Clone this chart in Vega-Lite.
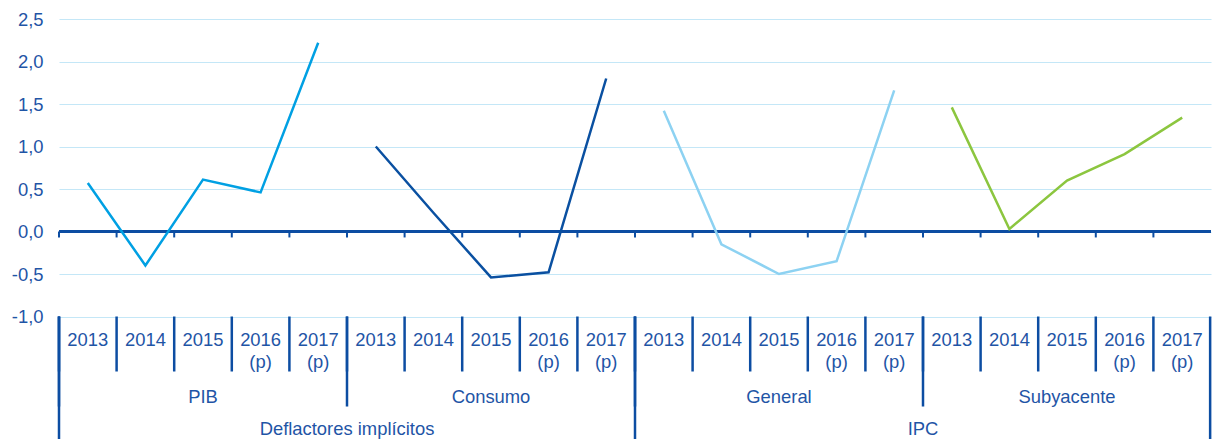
{
  "$schema": "https://vega.github.io/schema/vega-lite/v6.json",
  "width": 1152,
  "height": 297.5,
  "autosize": {"type": "none"},
  "padding": {"left": 59, "top": 19, "right": 1, "bottom": 123},
  "background": "white",
  "config": {
    "view": {"stroke": null},
    "font": "Liberation Sans",
    "text": {"font": "Liberation Sans", "fontSize": 18.4, "color": "#1F55A6"}
  },
  "data": {
    "values": [
      {"id": "PIB-2013", "grupo": "Deflactores implícitos", "serie": "PIB", "anio": "2013", "nota": "", "valor": 0.57},
      {"id": "PIB-2014", "grupo": "Deflactores implícitos", "serie": "PIB", "anio": "2014", "nota": "", "valor": -0.4},
      {"id": "PIB-2015", "grupo": "Deflactores implícitos", "serie": "PIB", "anio": "2015", "nota": "", "valor": 0.61},
      {"id": "PIB-2016", "grupo": "Deflactores implícitos", "serie": "PIB", "anio": "2016", "nota": "(p)", "valor": 0.46},
      {"id": "PIB-2017", "grupo": "Deflactores implícitos", "serie": "PIB", "anio": "2017", "nota": "(p)", "valor": 2.22},
      {"id": "Consumo-2013", "grupo": "Deflactores implícitos", "serie": "Consumo", "anio": "2013", "nota": "", "valor": 1.0},
      {"id": "Consumo-2014", "grupo": "Deflactores implícitos", "serie": "Consumo", "anio": "2014", "nota": "", "valor": 0.22},
      {"id": "Consumo-2015", "grupo": "Deflactores implícitos", "serie": "Consumo", "anio": "2015", "nota": "", "valor": -0.54},
      {"id": "Consumo-2016", "grupo": "Deflactores implícitos", "serie": "Consumo", "anio": "2016", "nota": "(p)", "valor": -0.48},
      {"id": "Consumo-2017", "grupo": "Deflactores implícitos", "serie": "Consumo", "anio": "2017", "nota": "(p)", "valor": 1.8},
      {"id": "General-2013", "grupo": "IPC", "serie": "General", "anio": "2013", "nota": "", "valor": 1.42},
      {"id": "General-2014", "grupo": "IPC", "serie": "General", "anio": "2014", "nota": "", "valor": -0.15},
      {"id": "General-2015", "grupo": "IPC", "serie": "General", "anio": "2015", "nota": "", "valor": -0.5},
      {"id": "General-2016", "grupo": "IPC", "serie": "General", "anio": "2016", "nota": "(p)", "valor": -0.35},
      {"id": "General-2017", "grupo": "IPC", "serie": "General", "anio": "2017", "nota": "(p)", "valor": 1.66},
      {"id": "Subyacente-2013", "grupo": "IPC", "serie": "Subyacente", "anio": "2013", "nota": "", "valor": 1.46},
      {"id": "Subyacente-2014", "grupo": "IPC", "serie": "Subyacente", "anio": "2014", "nota": "", "valor": 0.03},
      {"id": "Subyacente-2015", "grupo": "IPC", "serie": "Subyacente", "anio": "2015", "nota": "", "valor": 0.6},
      {"id": "Subyacente-2016", "grupo": "IPC", "serie": "Subyacente", "anio": "2016", "nota": "(p)", "valor": 0.91},
      {"id": "Subyacente-2017", "grupo": "IPC", "serie": "Subyacente", "anio": "2017", "nota": "(p)", "valor": 1.34}
    ]
  },
  "resolve": {"scale": {"x": "shared", "y": "shared"}},
  "layer": [
    {
      "mark": {"type": "rule", "color": "#0C4DA2", "strokeWidth": 2.5},
      "encoding": {
        "y": {
          "datum": 0,
          "type": "quantitative",
          "scale": {"domain": [-1, 2.5], "nice": false, "zero": false},
          "axis": {
            "values": [-1, -0.5, 0, 0.5, 1, 1.5, 2, 2.5],
            "labelExpr": "replace(replace(format(datum.value, '.1f'), '.', ','), '\u2212', '-')",
            "domain": false,
            "ticks": false,
            "grid": true,
            "gridColor": "#C4E7F7",
            "gridWidth": 1.2,
            "labelFont": "Liberation Sans",
            "labelFontSize": 18.4,
            "labelColor": "#1F55A6",
            "labelPadding": 16,
            "title": null
          }
        }
      }
    },
    {
      "mark": {"type": "rule", "color": "#0C4DA2", "strokeWidth": 2},
      "encoding": {
        "x": {
          "field": "id",
          "type": "nominal",
          "bandPosition": 0,
          "scale": {
            "type": "band",
            "paddingInner": 0,
            "paddingOuter": 0,
            "domain": ["PIB-2013", "PIB-2014", "PIB-2015", "PIB-2016", "PIB-2017", "Consumo-2013", "Consumo-2014", "Consumo-2015", "Consumo-2016", "Consumo-2017", "General-2013", "General-2014", "General-2015", "General-2016", "General-2017", "Subyacente-2013", "Subyacente-2014", "Subyacente-2015", "Subyacente-2016", "Subyacente-2017"]
          },
          "axis": null
        },
        "y": {"datum": 0, "type": "quantitative"},
        "y2": {"datum": -0.07}
      }
    },
    {
      "mark": {"type": "line", "strokeWidth": 2.5, "strokeCap": "butt", "strokeJoin": "miter"},
      "encoding": {
        "x": {"field": "id", "type": "nominal", "bandPosition": 0.5},
        "y": {"field": "valor", "type": "quantitative"},
        "color": {
          "field": "serie",
          "type": "nominal",
          "scale": {
            "domain": ["PIB", "Consumo", "General", "Subyacente"],
            "range": ["#00A0E3", "#0A50A1", "#8DD2F2", "#8CC63F"]
          },
          "legend": null
        },
        "detail": {"field": "serie"}
      }
    },
    {
      "mark": {"type": "rule", "color": "#0C4DA2", "strokeWidth": 2.5},
      "encoding": {
        "x": {"field": "id", "type": "nominal", "bandPosition": 0},
        "y": {"datum": -1, "type": "quantitative"},
        "y2": {"datum": -1.647}
      }
    },
    {
      "transform": [{"filter": "datum.anio == '2013'"}],
      "mark": {"type": "rule", "color": "#0C4DA2", "strokeWidth": 2.5},
      "encoding": {
        "x": {"field": "id", "type": "nominal", "bandPosition": 0},
        "y": {"datum": -1, "type": "quantitative"},
        "y2": {"datum": -2.059}
      }
    },
    {
      "transform": [{"filter": "datum.anio == '2013' && (datum.serie == 'PIB' || datum.serie == 'General')"}],
      "mark": {"type": "rule", "color": "#0C4DA2", "strokeWidth": 2.5},
      "encoding": {
        "x": {"field": "id", "type": "nominal", "bandPosition": 0},
        "y": {"datum": -1, "type": "quantitative"},
        "y2": {"datum": -2.5}
      }
    },
    {
      "transform": [{"filter": "datum.id == 'Subyacente-2017'"}],
      "mark": {"type": "rule", "color": "#0C4DA2", "strokeWidth": 2.5},
      "encoding": {
        "x": {"field": "id", "type": "nominal", "bandPosition": 0.985},
        "y": {"datum": -1, "type": "quantitative"},
        "y2": {"datum": -2.5}
      }
    },
    {
      "mark": {"type": "text", "baseline": "middle", "align": "center"},
      "encoding": {
        "x": {"field": "id", "type": "nominal", "bandPosition": 0.5},
        "y": {"datum": -1.272, "type": "quantitative"},
        "text": {"field": "anio"}
      }
    },
    {
      "mark": {"type": "text", "baseline": "middle", "align": "center"},
      "encoding": {
        "x": {"field": "id", "type": "nominal", "bandPosition": 0.5},
        "y": {"datum": -1.531, "type": "quantitative"},
        "text": {"field": "nota"}
      }
    },
    {
      "transform": [{"filter": "datum.anio == '2015'"}],
      "mark": {"type": "text", "baseline": "middle", "align": "center"},
      "encoding": {
        "x": {"field": "id", "type": "nominal", "bandPosition": 0.5},
        "y": {"datum": -1.947, "type": "quantitative"},
        "text": {"field": "serie"}
      }
    },
    {
      "transform": [{"filter": "datum.anio == '2013' && (datum.serie == 'Consumo' || datum.serie == 'Subyacente')"}],
      "mark": {"type": "text", "baseline": "middle", "align": "center"},
      "encoding": {
        "x": {"field": "id", "type": "nominal", "bandPosition": 0},
        "y": {"datum": -2.325, "type": "quantitative"},
        "text": {"field": "grupo"}
      }
    }
  ]
}
